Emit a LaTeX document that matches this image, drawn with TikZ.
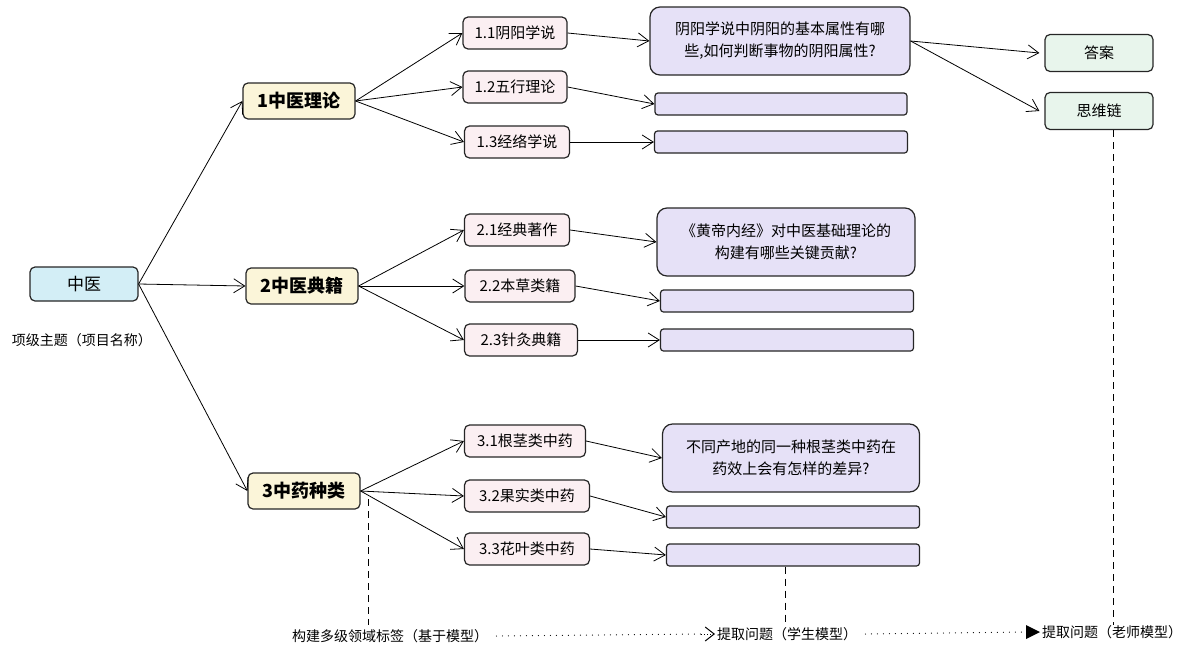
\documentclass[tikz,border=0pt]{standalone}
\usepackage{fontspec}
\setmainfont{Noto Sans CJK SC}
\usetikzlibrary{arrows.meta,patterns}
\definecolor{lav}{HTML}{E6E1F7}
\definecolor{pinkish}{HTML}{FBEFF2}
\definecolor{yel}{HTML}{FBF5D9}
\definecolor{cy}{HTML}{D3EEF6}
\definecolor{gr}{HTML}{E8F5EC}
\begin{document}
\begin{tikzpicture}[x=1pt,y=-1pt,
 box/.style={draw=black!85,line width=1.2pt,rounded corners=5pt,inner sep=0pt,font=\fontsize{15}{17}\selectfont},
 top/.style={box,fill=cy,minimum width=108pt,minimum height=34pt,font=\fontsize{17}{19}\selectfont},
 lv1/.style={box,fill=yel,minimum width=112pt,minimum height=36pt,font=\fontsize{18}{20}\selectfont\bfseries},
 lv2/.style={box,fill=pinkish,minimum height=32pt},
 qbox/.style={box,fill=lav,rounded corners=10pt,minimum height=68pt,align=center,font=\fontsize{15}{22}\selectfont},
 bar/.style={box,fill=lav,rounded corners=3pt,minimum height=22pt},
 ans/.style={box,fill=gr,minimum width=108pt,minimum height=37pt},
 arr/.style={-{Straight Barb[length=11pt,width=14pt]},line width=0.8pt},
 dsh/.style={line width=0.9pt,dash pattern=on 7pt off 5pt},
 dots/.style={line width=1.2pt,line cap=round,dash pattern=on 0pt off 6pt}]
\useasboundingbox (0,0) rectangle (1200,654);
\node[top] (zy) at (84,284) {中医};
\node[font=\fontsize{14}{16}\selectfont] (lbl) at (82,340) {项级主题（项目名称）};
\node[lv1] (a1) at (299,101) {1中医理论};
\node[lv1] (a2) at (302,286) {2中医典籍};
\node[lv1] (a3) at (304,491) {3中药种类};
\node[lv2,minimum width=104pt] (b11) at (515,33) {1.1阴阳学说};
\node[lv2,minimum width=104pt] (b12) at (515,87) {1.2五行理论};
\node[lv2,minimum width=105pt] (b13) at (517,142) {1.3经络学说};
\node[lv2,minimum width=105pt] (b21) at (517,230) {2.1经典著作};
\node[lv2,minimum width=110pt] (b22) at (520,286) {2.2本草类籍};
\node[lv2,minimum width=113pt] (b23) at (521,340) {2.3针灸典籍};
\node[lv2,minimum width=121pt] (b31) at (525,441) {3.1根茎类中药};
\node[lv2,minimum width=125pt] (b32) at (527,496) {3.2果实类中药};
\node[lv2,minimum width=125pt] (b33) at (527,549) {3.3花叶类中药};
\node[qbox,minimum width=260pt] (q1) at (780,41) {阴阳学说中阴阳的基本属性有哪\\些,如何判断事物的阴阳属性?};
\node[bar,minimum width=252pt] (c12) at (781,104) {};
\node[bar,minimum width=253pt] (c13) at (781,142) {};
\node[qbox,minimum width=258pt] (q2) at (786,242) {《黄帝内经》对中医基础理论的\\构建有哪些关键贡献?};
\node[bar,minimum width=253pt] (c22) at (787,301) {};
\node[bar,minimum width=253pt] (c23) at (787,340) {};
\node[qbox,minimum width=257pt] (q3) at (791,458) {不同产地的同一种根茎类中药在\\药效上会有怎样的差异?};
\node[bar,minimum width=253pt] (c32) at (793,517) {};
\node[bar,minimum width=253pt] (c33) at (793,555) {};
\node[ans] (da) at (1099,53) {答案};
\node[ans] (sw) at (1099,111) {思维链};
\foreach \s/\t in {zy/a1,zy/a2,zy/a3,a1/b11,a1/b12,a1/b13,a2/b21,a2/b22,a2/b23,a3/b31,a3/b32,a3/b33}
  \draw[arr] (\s.east) -- (\t.west);
\draw[arr] (b11.east) -- (q1.west);
\draw[arr] (b12.east) -- (c12.west);
\draw[arr] (b13.east) -- (c13.west);
\draw[arr] (b21.east) -- (q2.west);
\draw[arr] (b22.east) -- (c22.west);
\draw[arr] (b23.east) -- (c23.west);
\draw[arr] (b31.east) -- (q3.west);
\draw[arr] (b32.east) -- (c32.west);
\draw[arr] (b33.east) -- (c33.west);
\draw[arr] (q1.east) -- ([xshift=-5pt]da.west);
\draw[arr] (q1.east) -- ([xshift=-5pt]sw.west);
\node[font=\fontsize{14}{16}\selectfont,anchor=west,inner sep=2pt] (t1) at (290,636) {构建多级领域标签（基于模型）};
\node[font=\fontsize{14}{16}\selectfont,anchor=west,inner sep=2pt] (t2) at (715,634) {提取问题（学生模型）};
\node[font=\fontsize{14}{16}\selectfont,anchor=west,inner sep=2pt] (t3) at (1040,632) {提取问题（老师模型）};
\coordinate (d1) at (368,625);
\coordinate (d2) at (785,625);
\coordinate (d3) at (1113,625);
\draw[dsh] (368,499) -- (d1);
\draw[dsh] (c33.south -| d2) -- (d2);
\draw[dsh] (sw.south -| d3) -- (d3);
\draw[dots] ([xshift=6pt]t1.east) -- ([xshift=-14pt]t2.west);
\draw[line width=1pt,dotted,-{Straight Barb[length=9pt,width=14pt]}] ([xshift=-14pt]t2.west) -- (t2.west);
\draw[dots] ([xshift=6pt]t2.east) -- ([xshift=-14pt]t3.west);
\fill ([xshift=-14pt,yshift=-7pt]t3.west) -- (t3.west) -- ([xshift=-14pt,yshift=7pt]t3.west) -- cycle;
\end{tikzpicture}
\end{document}
